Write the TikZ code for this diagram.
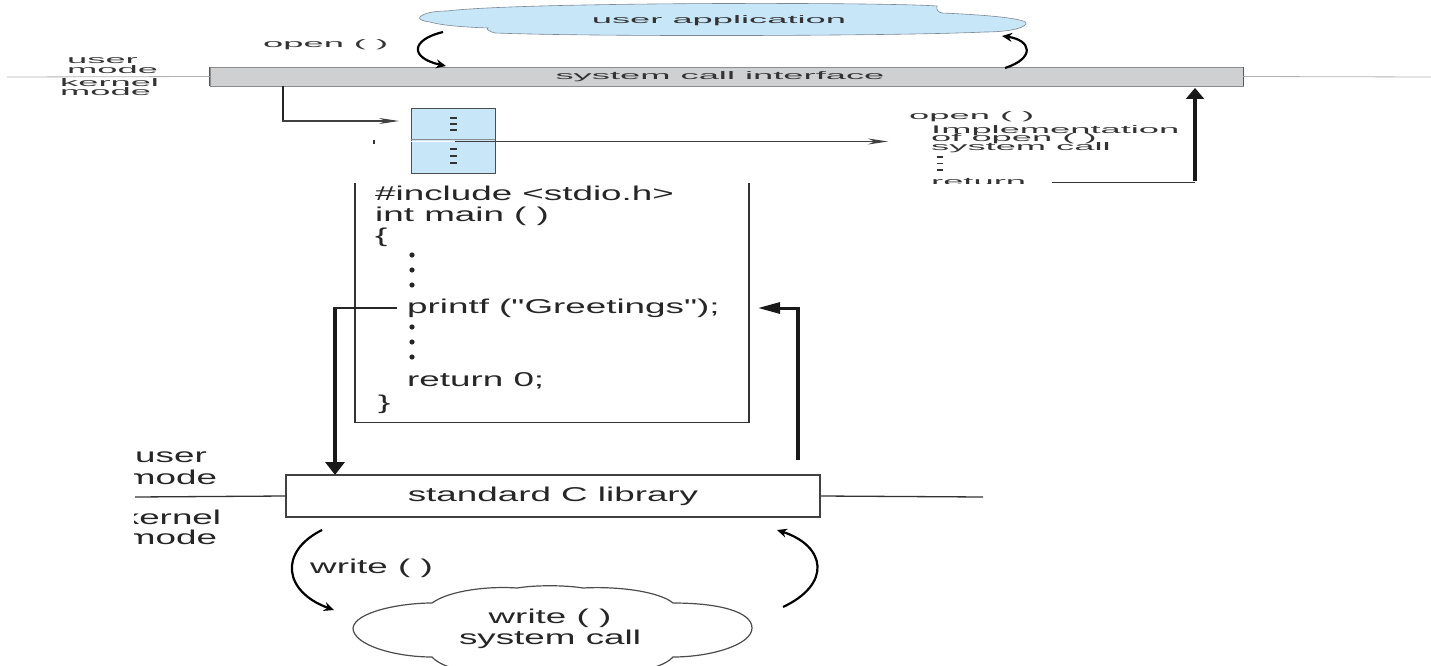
\documentclass[tikz,border=0pt]{standalone}
\usepackage{fontspec}
\setmainfont{Liberation Sans}
\newfontfamily\bigsans[FakeStretch=1.84]{Liberation Sans}
\newfontfamily\widesans[FakeStretch=3.3]{Liberation Sans}
\usetikzlibrary{arrows.meta}
\definecolor{barfill}{HTML}{CFD0D2}
\definecolor{tablefill}{HTML}{C7E6F8}
\definecolor{cloudline}{HTML}{7C8894}
\definecolor{inkgray}{HTML}{333333}
\tikzset{
  smalltxt/.style={font=\widesans\fontsize{11}{11}\selectfont, inner sep=0pt, text=inkgray},
  bigtxt/.style={font=\bigsans\fontsize{20}{22}\selectfont, inner sep=0pt, text=black!85},
  codeline/.style={bigtxt, anchor=base west},
  fatarrow/.style={line width=4.5pt, -{Triangle[width=19pt,length=13pt]}},
  curvearrow/.style={line width=2.2pt, -{Stealth[length=10pt,width=9pt]}},
  slimarrow/.style={line width=1.1pt, draw=black!75, -{Stealth[length=20pt,width=6pt]}},
  dashmark/.style={fill=black!80},
}
\begin{document}
\begin{tikzpicture}[x=1pt,y=-1pt]
\useasboundingbox (0,0) rectangle (1431,666);
\fill[white] (0,0) rectangle (1431,666);

% ---------- upper figure: open() through the system call interface ----------
% user application cloud
\draw[fill=tablefill, draw=cloudline, line width=0.6pt] (420,17)
  .. controls (425,12) and (438,11) .. (447,11)
  .. controls (520,2) and (880,2) .. (937,6)
  .. controls (936,10) and (938,12) .. (942,13)
  .. controls (990,15) and (1030,19) .. (1026,24)
  .. controls (1022,30) and (1000,32) .. (985,32)
  .. controls (900,36) and (600,37) .. (495,33)
  .. controls (488,31) and (486,29) .. (488,28)
  .. controls (460,27) and (440,25) .. (430,22)
  .. controls (422,21) and (418,19) .. (420,17) -- cycle;
\node[smalltxt] (app) at (719,21) {user application};

% system call interface bar and the user/kernel boundary
\node[fill=barfill, draw=black!45, line width=0.6pt, minimum width=1033pt,
      minimum height=19pt, inner sep=0pt] (sci) at (726.5,76.5) {};
\draw[black!65, line width=1.3pt] (sci.north west) -- (sci.south west);
\draw[black!65, line width=1.3pt] (sci.north east) -- (sci.south east);
\node[smalltxt] (scilabel) at (720,77) {system call interface};
\draw[black!30, line width=0.8pt] (7,77) -- (sci.west);
\draw[black!30, line width=0.8pt] (sci.east) -- (1431,77);

\node[smalltxt, anchor=west] (um1) at (67,61) {user};
\node[smalltxt, anchor=west] (um2) at (67,69.5) {mode};
\node[smalltxt, anchor=west] (km1) at (60,83) {kernel};
\node[smalltxt, anchor=west] (km2) at (60,92) {mode};

% open() call and return arcs
\node[smalltxt, anchor=west] (openlbl) at (263,45) {open ( )};
\coordinate (callstart) at (443,32);
\coordinate (callend) at (446,66);
\draw[curvearrow] (callstart) .. controls (410,40) and (410,58) .. (callend);
\coordinate (retstart) at (1005,68);
\coordinate (retend) at (1002,36);
\draw[curvearrow] (retstart) .. controls (1036,58) and (1031,40) .. (retend);

% system call table
\node[fill=tablefill, draw=black!70, line width=0.8pt, minimum width=84pt,
      minimum height=65pt, inner sep=0pt] (table) at (453,140.5) {};
\draw[white, line width=1pt] (table.west) ++(0,0.5) -- ++(84,0);
\draw[black!45, line width=0.8pt] (table.west) ++(0,-1) -- ++(84,0);
\foreach \yy in {118,124,130,149,156,163}
  \fill[dashmark] (449.5,\yy-0.9) rectangle (456.5,\yy+0.9);
\fill[black!80] (373.2,140) rectangle (375,144);
\coordinate (tabin) at (283,86);
\coordinate (tabcorner) at (283,121);
\coordinate (tabentry) at (399,121);
\draw[line width=2.4pt, black!85] (tabin) -- (tabcorner);
\draw[slimarrow] ([xshift=-1pt]tabcorner) -- (tabentry);
\coordinate (rowstart) at (455,141.5);
\coordinate (impl) at (888,141.5);
\draw[slimarrow] (rowstart) -- (impl);

% implementation of open()
\node[smalltxt, anchor=west] (implhead) at (909,117) {open ( )};
\node[smalltxt, anchor=west] (impl1) at (931,130.5) {Implementation};
\node[smalltxt, anchor=west] (impl2) at (931,139) {of open ( )};
\node[smalltxt, anchor=west] (impl3) at (931,147.5) {system call};
\foreach \yy in {157,163.5,170}
  \fill[dashmark] (937,\yy-0.8) rectangle (943,\yy+0.8);
\begin{scope}
  \clip (900,170) rectangle (1040,183.5);
  \node[smalltxt, anchor=base west] (implret) at (931,185.5) {return};
\end{scope}
\coordinate (retline) at (1052,182);
\coordinate (retcorner) at (1195,182);
\coordinate (retup) at (1195,88);
\draw[black!80, line width=1pt] (retline) -- (retcorner);
\draw[line width=3.2pt, black!90, -{Triangle[width=18pt,length=11pt]}] ([yshift=1.5pt]retcorner) -- (retup);

% ---------- lower figure: printf() through the standard C library ----------
\draw[black!80, line width=1.3pt] (355,183) -- (355,422.5) -- (749,422.5) -- (749,183);
\node[codeline] (inc) at (375,200) {\#include <stdio.h>};
\node[codeline] (mainln) at (375,221) {int main ( )};
\node[codeline] (open) at (375,242) {\{};
\foreach \yy in {255,270,285,327,342,357}
  \fill[black!85] (412,\yy) circle (2.6pt);
\node[codeline] (printf) at (407,313) {printf ("Greetings");};
\node[codeline] (ret) at (407,386) {return 0;};
\node[codeline] (close) at (378,409) {\}};

% standard C library and the lower user/kernel boundary
\node[draw=black!75, line width=1.3pt, minimum width=534pt, minimum height=42pt,
      inner sep=0pt] (libc) at (553,496) {};
\node[bigtxt] (libclbl) at (553,496) {standard C library};
\draw[black!80, line width=1.3pt] (135,497) -- (libc.west);
\draw[black!80, line width=1.3pt] (libc.east) -- (983,497);
\begin{scope}
  \clip (134.5,430) rectangle (300,560);
  \node[bigtxt] (um3) at (171,457) {user};
  \node[bigtxt] (um4) at (171,477) {mode};
  \node[bigtxt] (km3) at (171,517) {kernel};
  \node[bigtxt] (km4) at (171,537) {mode};
\end{scope}

% printf() into the library and back
\coordinate (callout) at (397,308);
\coordinate (calldown) at (335,308);
\coordinate (libin) at (335,475);
\draw[black!85, line width=2pt] (callout) -- ([xshift=-2pt]calldown);
\draw[fatarrow, black!90] ([yshift=-1pt]calldown) -- (libin);
\coordinate (libout) at (798,460);
\coordinate (backcorner) at (798,308);
\coordinate (backin) at (758,308);
\draw[line width=4.5pt, black!90] (libout) -- ([yshift=-1pt]backcorner);
\draw[line width=3pt, black!90, -{Triangle[width=11pt,length=22pt]}] ([xshift=2pt]backcorner) -- (backin);

% write() system call cloud
\draw[fill=white, draw=black!70, line width=1.2pt] (353,628)
  .. controls (355,612) and (400,603) .. (432,603)
  .. controls (450,590) and (490,586) .. (517,588)
  .. controls (535,585) and (565,585) .. (583,588)
  .. controls (620,586) and (660,592) .. (673,603)
  .. controls (720,603) and (752,612) .. (752,628)
  .. controls (752,645) and (710,657) .. (673,657)
  .. controls (660,672) and (600,680) .. (560,680)
  .. controls (500,680) and (445,672) .. (432,657)
  .. controls (395,657) and (353,645) .. (353,628) -- cycle;
\node[bigtxt] (wsys1) at (550,618) {write ( )};
\node[bigtxt] (wsys2) at (550,639) {system call};

% write() call and return arcs
\node[bigtxt, anchor=west] (writelbl) at (310,568) {write ( )};
\coordinate (wstart) at (322,530);
\coordinate (wend) at (334,610);
\draw[curvearrow] (wstart) .. controls (278,552) and (284,592) .. (wend);
\coordinate (wbstart) at (783,607);
\coordinate (wbend) at (777,530);
\draw[curvearrow] (wbstart) .. controls (832,584) and (826,546) .. (wbend);
\end{tikzpicture}
\end{document}
